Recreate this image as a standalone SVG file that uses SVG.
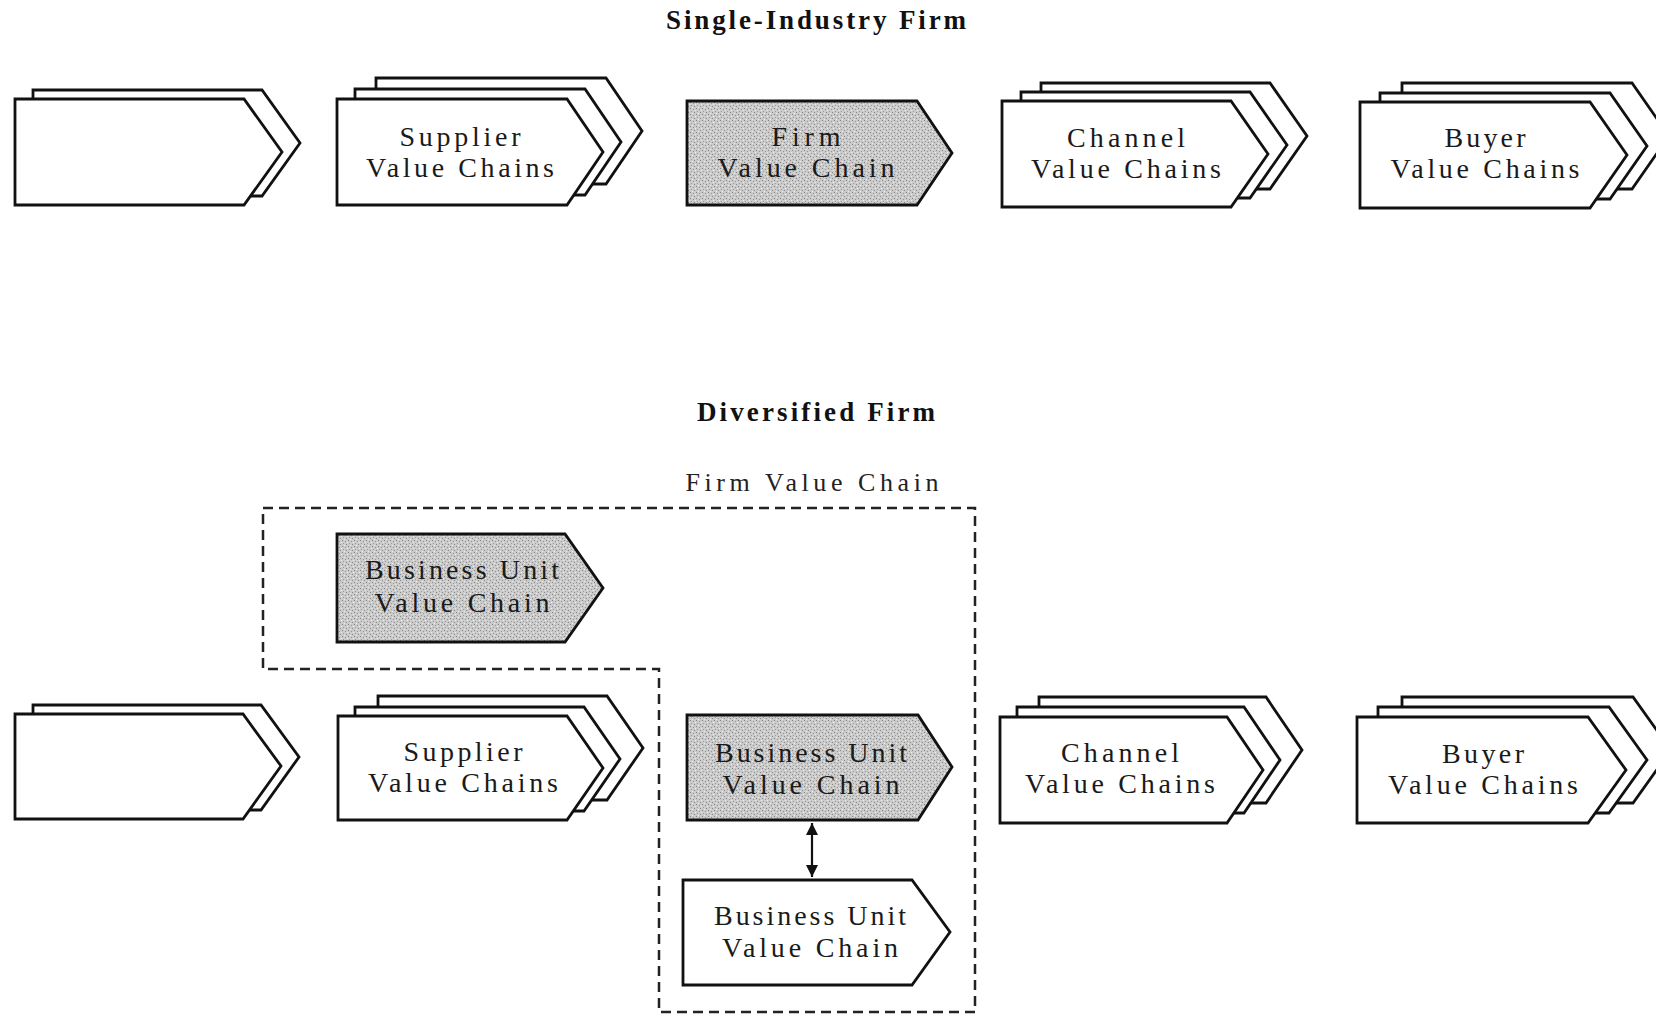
<svg xmlns="http://www.w3.org/2000/svg" width="1656" height="1017" viewBox="0 0 1656 1017">
<defs>
<pattern id="stipple" width="6" height="6" patternUnits="userSpaceOnUse">
<rect width="6" height="6" fill="#cbcbcb"/>
<rect x="0" y="0" width="1" height="1" fill="#848484"/>
<rect x="3" y="1" width="1" height="1" fill="#969696"/>
<rect x="1" y="3" width="1" height="1" fill="#9c9c9c"/>
<rect x="4" y="4" width="1" height="1" fill="#888888"/>
<rect x="2" y="5" width="1" height="1" fill="#eeeeee"/>
<rect x="5" y="2" width="1" height="1" fill="#f0f0f0"/>
</pattern>
<marker id="ah" viewBox="0 0 10 10" refX="10" refY="5" markerWidth="12" markerHeight="12" markerUnits="userSpaceOnUse" orient="auto-start-reverse">
<path d="M0,0 L10,5 L0,10 Z" fill="#111"/>
</marker>
</defs>
<style>
.box{fill:#fff;stroke:#111;stroke-width:2.8;stroke-linejoin:miter}
.shade{fill:url(#stipple);stroke:#111;stroke-width:2.8}
.lbl{font-family:"Liberation Serif","Times New Roman",serif;font-size:28px;fill:#1a1a1a;text-anchor:middle}
.title{font-family:"Liberation Serif","Times New Roman",serif;font-size:27px;font-weight:bold;fill:#111;text-anchor:middle}
.sub{font-family:"Liberation Serif","Times New Roman",serif;font-size:26px;fill:#222;text-anchor:middle}
.dash{fill:none;stroke:#222;stroke-width:2.5;stroke-dasharray:10 6}
.conn{stroke:#111;stroke-width:2.2;fill:none}
</style>
<rect width="1656" height="1017" fill="#fff"/>

<g id="titles">
<text class="title" x="816" y="29" textLength="300">Single-Industry Firm</text>
<text class="title" x="816" y="421" textLength="238">Diversified Firm</text>
</g>

<!-- Top row -->
<g id="top-upstream">
<polygon class="box" points="33,90 262,90 300,143 262,196 33,196"/>
<polygon class="box" points="15,99 244,99 282,152 244,205 15,205"/>
</g>
<g id="top-supplier">
<polygon class="box" points="376,78 606,78 642,131 606,184 376,184"/>
<polygon class="box" points="355,89 585,89 621,142 585,195 355,195"/>
<polygon class="box" points="337,99 567,99 603,152 567,205 337,205"/>
<text class="lbl" x="460" y="146" textLength="121">Supplier</text>
<text class="lbl" x="460" y="177" textLength="188">Value Chains</text>
</g>
<g id="top-firm">
<polygon class="shade" points="687,101 917,101 952,153 917,205 687,205"/>
<text class="lbl" x="806" y="146" textLength="69">Firm</text>
<text class="lbl" x="806" y="177" textLength="177">Value Chain</text>
</g>
<g id="top-channel">
<polygon class="box" points="1041,83 1270,83 1307,136 1270,189 1041,189"/>
<polygon class="box" points="1021,92 1250,92 1287,145 1250,198 1021,198"/>
<polygon class="box" points="1002,101 1231,101 1268,154 1231,207 1002,207"/>
<text class="lbl" x="1126" y="147" textLength="118">Channel</text>
<text class="lbl" x="1126" y="178" textLength="190">Value Chains</text>
</g>
<g id="top-buyer">
<polygon class="box" points="1402,83 1632,83 1669,136 1632,189 1402,189"/>
<polygon class="box" points="1380,93 1610,93 1647,146 1610,199 1380,199"/>
<polygon class="box" points="1360,102 1590,102 1627,155 1590,208 1360,208"/>
<text class="lbl" x="1485" y="147" textLength="81">Buyer</text>
<text class="lbl" x="1485" y="178" textLength="189">Value Chains</text>
</g>

<!-- Diversified firm boundary -->
<g id="firm-boundary">
<path class="dash" d="M263,508 L975,508 L975,1012 L659,1012 L659,669 L263,669 Z"/>
<text class="sub" x="812" y="491" textLength="253">Firm Value Chain</text>
</g>

<g id="bu-upper">
<polygon class="shade" points="337,534 565,534 603,588 565,642 337,642"/>
<text class="lbl" x="462" y="579" textLength="194">Business Unit</text>
<text class="lbl" x="462" y="612" textLength="175">Value Chain</text>
</g>

<!-- Bottom row -->
<g id="bottom-upstream">
<polygon class="box" points="33,705 261,705 299,757 261,810 33,810"/>
<polygon class="box" points="15,714 243,714 281,766 243,819 15,819"/>
</g>
<g id="bottom-supplier">
<polygon class="box" points="378,696 607,696 643,748 607,800 378,800"/>
<polygon class="box" points="355,707 584,707 620,759 584,811 355,811"/>
<polygon class="box" points="338,716 567,716 603,768 567,820 338,820"/>
<text class="lbl" x="463" y="761" textLength="119">Supplier</text>
<text class="lbl" x="463" y="792" textLength="190">Value Chains</text>
</g>
<g id="bu-middle">
<polygon class="shade" points="687,715 918,715 952,767 918,820 687,820"/>
<text class="lbl" x="811" y="762" textLength="192">Business Unit</text>
<text class="lbl" x="811" y="794" textLength="177">Value Chain</text>
</g>
<g id="bottom-channel">
<polygon class="box" points="1039,697 1266,697 1302,750 1266,803 1039,803"/>
<polygon class="box" points="1017,707 1244,707 1280,760 1244,813 1017,813"/>
<polygon class="box" points="1000,717 1227,717 1263,770 1227,823 1000,823"/>
<text class="lbl" x="1120" y="762" textLength="118">Channel</text>
<text class="lbl" x="1120" y="793" textLength="190">Value Chains</text>
</g>
<g id="bottom-buyer">
<polygon class="box" points="1402,697 1633,697 1671,750 1633,803 1402,803"/>
<polygon class="box" points="1378,707 1609,707 1647,760 1609,813 1378,813"/>
<polygon class="box" points="1357,717 1588,717 1626,770 1588,823 1357,823"/>
<text class="lbl" x="1483" y="763" textLength="82">Buyer</text>
<text class="lbl" x="1483" y="794" textLength="190">Value Chains</text>
</g>
<g id="bu-lower">
<polygon class="box" points="683,880 912,880 950,932 912,985 683,985"/>
<text class="lbl" x="810" y="925" textLength="192">Business Unit</text>
<text class="lbl" x="810" y="957" textLength="176">Value Chain</text>
</g>

<g id="connectors">
<line class="conn" x1="812" y1="823" x2="812" y2="877" marker-start="url(#ah)" marker-end="url(#ah)"/>
</g>
</svg>
